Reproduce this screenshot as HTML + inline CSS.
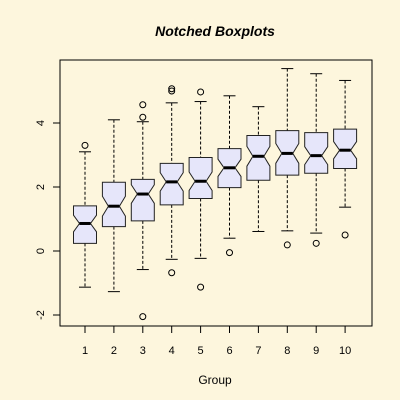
<!DOCTYPE html>
<html><head><meta charset="utf-8"><style>
html,body{margin:0;padding:0;background:#fdf6dd;}
svg{display:block;font-family:"Liberation Sans",sans-serif;}
</style></head><body>
<svg id="chart" width="400" height="400">
<rect x="0" y="0" width="400" height="400" fill="#fdf6dd"/>
<text x="215" y="36" text-anchor="middle" font-size="14" font-weight="bold" font-style="italic">Notched Boxplots</text>
<text x="215" y="384" text-anchor="middle" font-size="12">Group</text>
<rect x="60" y="60" width="312" height="266" fill="none" stroke="#000"/>
<g id="marks"></g>
</svg>
<script>
const groups = ["1","2","3","4","5","6","7","8","9","10"];
const whiskLow = [-1.13,-1.27,-0.58,-0.26,-0.23,0.40,0.61,0.63,0.56,1.37];
const q1 = [0.24,0.76,0.94,1.44,1.64,1.98,2.21,2.37,2.43,2.58];
const medians = [0.86,1.40,1.78,2.16,2.18,2.60,2.96,3.05,2.98,3.15];
const q3 = [1.41,2.15,2.24,2.74,2.92,3.20,3.61,3.76,3.70,3.81];
const whiskHigh = [3.10,4.10,4.04,4.63,4.67,4.85,4.51,5.70,5.54,5.33];
const notchHalf = [0.26,0.31,0.29,0.29,0.29,0.27,0.31,0.31,0.28,0.27];
const outliers = [[3.3],[],[4.57,4.18,-2.05],[5.07,5.0,-0.68],[4.97,-1.13],[-0.05],[],[0.19],[0.24],[0.5]];
const yTicks = [-2,0,2,4];

const NS="http://www.w3.org/2000/svg";
const g=document.getElementById('marks');
function y(v){return 251-v*32;}
function x(i){return 85+i*28.9;}
function mk(tag,attrs){const e=document.createElementNS(NS,tag);for(const k in attrs)e.setAttribute(k,attrs[k]);g.appendChild(e);return e;}

yTicks.forEach(t=>{
  const l=mk('line',{x1:53,x2:60,y1:y(t),y2:y(t),stroke:'#000'});
  
  
  const tx=mk('text',{x:44,y:y(t),'font-size':11,'text-anchor':'middle',transform:`rotate(-90 44 ${y(t)})`});
  tx.textContent=String(t);
  
  
});

groups.forEach((gname,i)=>{
  const cx=x(i), hw=11.5, nw=6;
  const t=mk('line',{x1:cx,x2:cx,y1:326,y2:333,stroke:'#000'});
  
  
  const tl=mk('text',{x:cx,y:354,'font-size':11,'text-anchor':'middle'});
  tl.textContent=gname;
  
  
  const w1=mk('line',{x1:cx,x2:cx,y1:y(whiskHigh[i]),y2:y(q3[i]),stroke:'#000','stroke-dasharray':'3,2'});
  
  
  const w2=mk('line',{x1:cx,x2:cx,y1:y(q1[i]),y2:y(whiskLow[i]),stroke:'#000','stroke-dasharray':'3,2'});
  
  
  [whiskHigh[i],whiskLow[i]].forEach(v=>{
    const c=mk('line',{x1:cx-6,x2:cx+6,y1:y(v),y2:y(v),stroke:'#000'});
    
    
  });
  const m=medians[i], nh=notchHalf[i];
  const pts=[[cx-hw,y(q3[i])],[cx+hw,y(q3[i])],[cx+hw,y(m+nh)],[cx+hw-nw,y(m)],[cx+hw,y(m-nh)],[cx+hw,y(q1[i])],
             [cx-hw,y(q1[i])],[cx-hw,y(m-nh)],[cx-hw+nw,y(m)],[cx-hw,y(m+nh)]];
  const b=mk('polygon',{points:pts.map(p=>p.join(',')).join(' '),fill:'#e6e6fa',stroke:'#222','stroke-width':1});
  
  
  const md=mk('line',{x1:cx-hw+nw,x2:cx+hw-nw,y1:y(m),y2:y(m),stroke:'#000','stroke-width':3});
  
  
  outliers[i].forEach(v=>{
    const o=mk('circle',{cx:cx,cy:y(v),r:3,fill:'none',stroke:'#000'});
    
    
  });
});
</script>
</body></html>
